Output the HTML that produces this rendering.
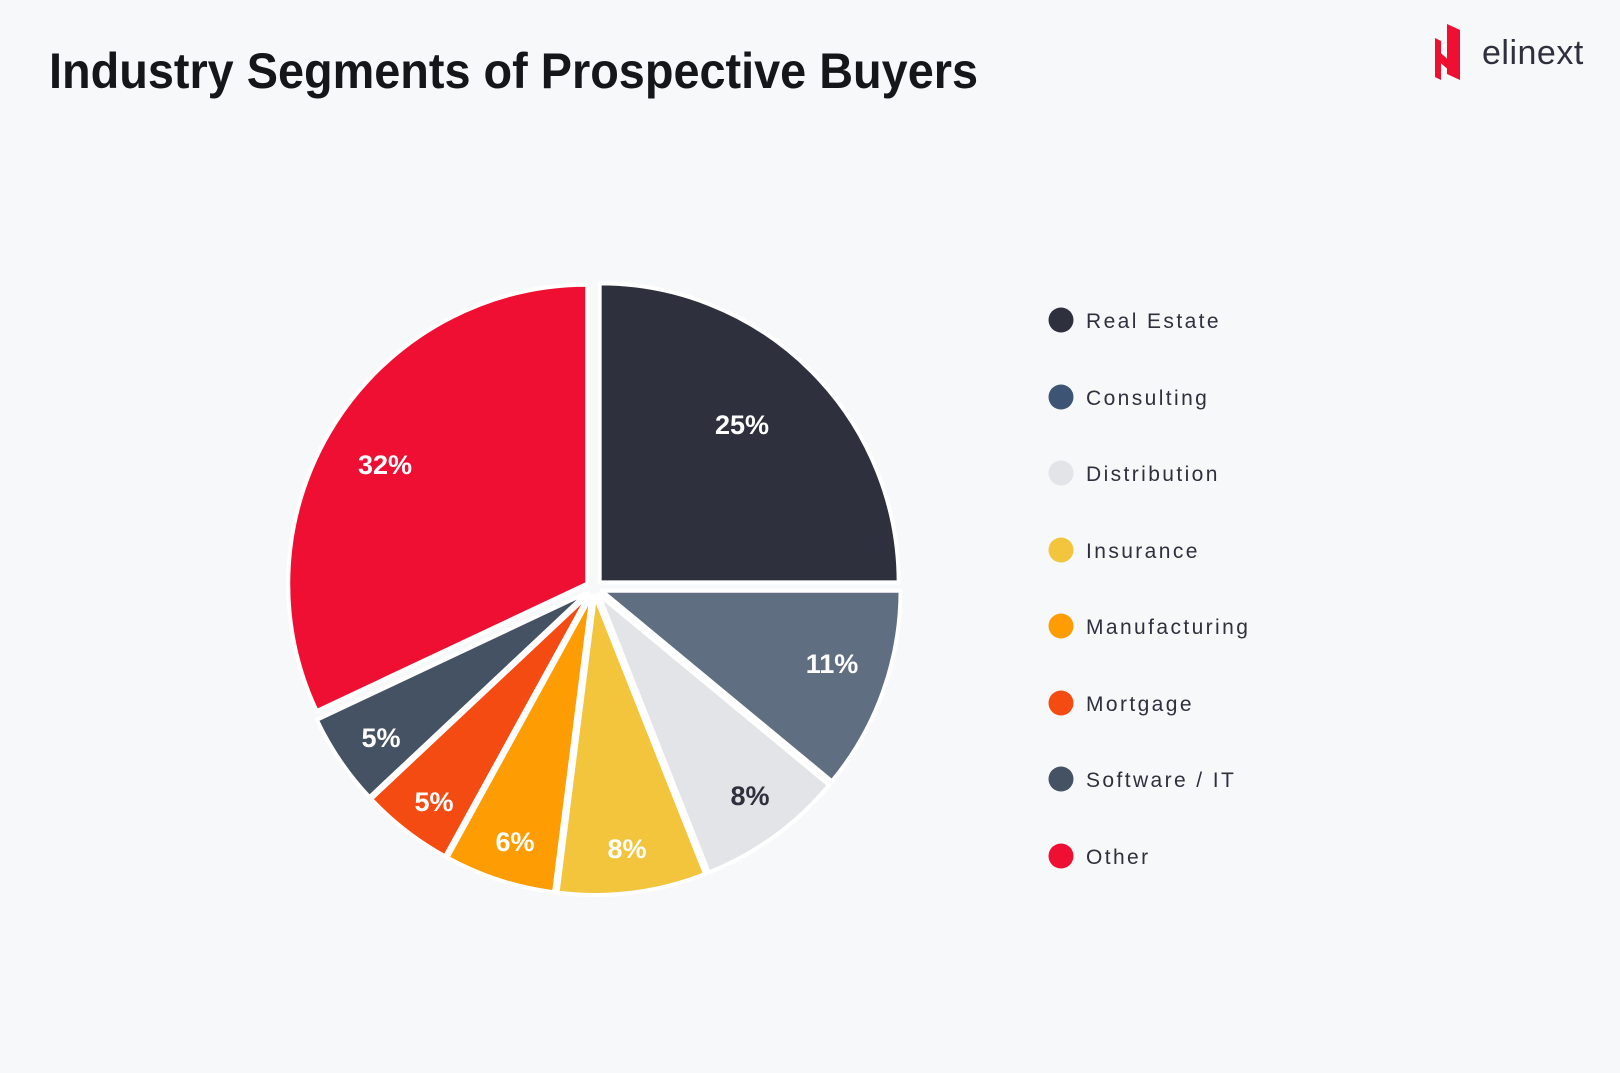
<!DOCTYPE html>
<html><head><meta charset="utf-8"><style>
html,body{margin:0;padding:0;background:#f7f8fa;}
svg{display:block}
</style></head><body>
<svg id="s" width="1620" height="1073" viewBox="0 0 1620 1073" xmlns="http://www.w3.org/2000/svg">
<rect width="1620" height="1073" fill="#f7f8fa"/>
<text x="49" y="88" font-family="'Liberation Sans Narrow','Liberation Sans',sans-serif" font-weight="bold" font-size="50" fill="#15161a" textLength="929" lengthAdjust="spacingAndGlyphs">Industry Segments of Prospective Buyers</text>
<g id="logo">
<polygon points="1447,24 1460,30 1460,80 1447,74" fill="#ee0f33"/>
<polygon points="1435,48 1460,70 1460,80 1435,58" fill="#ee0f33"/>
<polygon points="1435,38 1441,41 1441,80 1435,77" fill="#ee0f33"/>
<text x="1482" y="64" font-family="'Liberation Sans',sans-serif" font-size="34" fill="#2e303d" letter-spacing="0.5">elinext</text>
</g>
<g id="pie"></g>
<g font-family="'Liberation Sans',sans-serif" font-size="21" fill="#2e303d" letter-spacing="2.4">
<circle cx="1061" cy="320" r="12.5" fill="#2e303d"/><text x="1086" y="328">Real Estate</text>
<circle cx="1061" cy="397" r="12.5" fill="#3d5475"/><text x="1086" y="405">Consulting</text>
<circle cx="1061" cy="473" r="12.5" fill="#e3e4e7"/><text x="1086" y="481">Distribution</text>
<circle cx="1061" cy="550" r="12.5" fill="#f2c53d"/><text x="1086" y="558">Insurance</text>
<circle cx="1061" cy="626" r="12.5" fill="#fd9c03"/><text x="1086" y="634">Manufacturing</text>
<circle cx="1061" cy="703" r="12.5" fill="#f44b12"/><text x="1086" y="711">Mortgage</text>
<circle cx="1061" cy="779" r="12.5" fill="#455263"/><text x="1086" y="787">Software / IT</text>
<circle cx="1061" cy="856" r="12.5" fill="#ee0f33"/><text x="1086" y="864">Other</text>
</g>
<g font-family="'Liberation Sans',sans-serif" font-weight="bold" font-size="27" text-anchor="middle">
<text x="742" y="434" fill="#fff">25%</text>
<text x="385" y="474" fill="#fff">32%</text>
<text x="832" y="673" fill="#fff">11%</text>
<text x="750" y="805" fill="#2e303d">8%</text>
<text x="627" y="858" fill="#fff">8%</text>
<text x="515" y="851" fill="#fff">6%</text>
<text x="434" y="811" fill="#fff">5%</text>
<text x="381" y="747" fill="#fff">5%</text>
</g>
</svg>
<script>
(function(){
var data=[[25,'#2e303d'],[11,'#5f6e80'],[8,'#e3e4e7'],[8,'#f2c53d'],[6,'#fd9c03'],[5,'#f44b12'],[5,'#455263'],[32,'#ee0f33']];
var cx=594,cy=588,r=299,a=0,g=document.getElementById('pie'),h='';
function pt(x,y,ang,rr){return [x+rr*Math.sin(ang),y-rr*Math.cos(ang)];}
data.forEach(function(d){
var a0=a*Math.PI/50,a1=(a+d[0])*Math.PI/50,m=(a0+a1)/2;
var ox=cx+8*Math.sin(m),oy=cy-8*Math.cos(m);
var p0=pt(ox,oy,a0,r),p1=pt(ox,oy,a1,r);
var large=(a1-a0)>Math.PI?1:0;
h+='<path d="M'+ox+','+oy+' L'+p0[0]+','+p0[1]+' A'+r+','+r+' 0 '+large+' 1 '+p1[0]+','+p1[1]+' Z" fill="'+d[1]+'" stroke="#ffffff" stroke-width="4" stroke-linejoin="round"/>';
a+=d[0];
});
g.innerHTML=h;
})();
</script>
</body></html>
